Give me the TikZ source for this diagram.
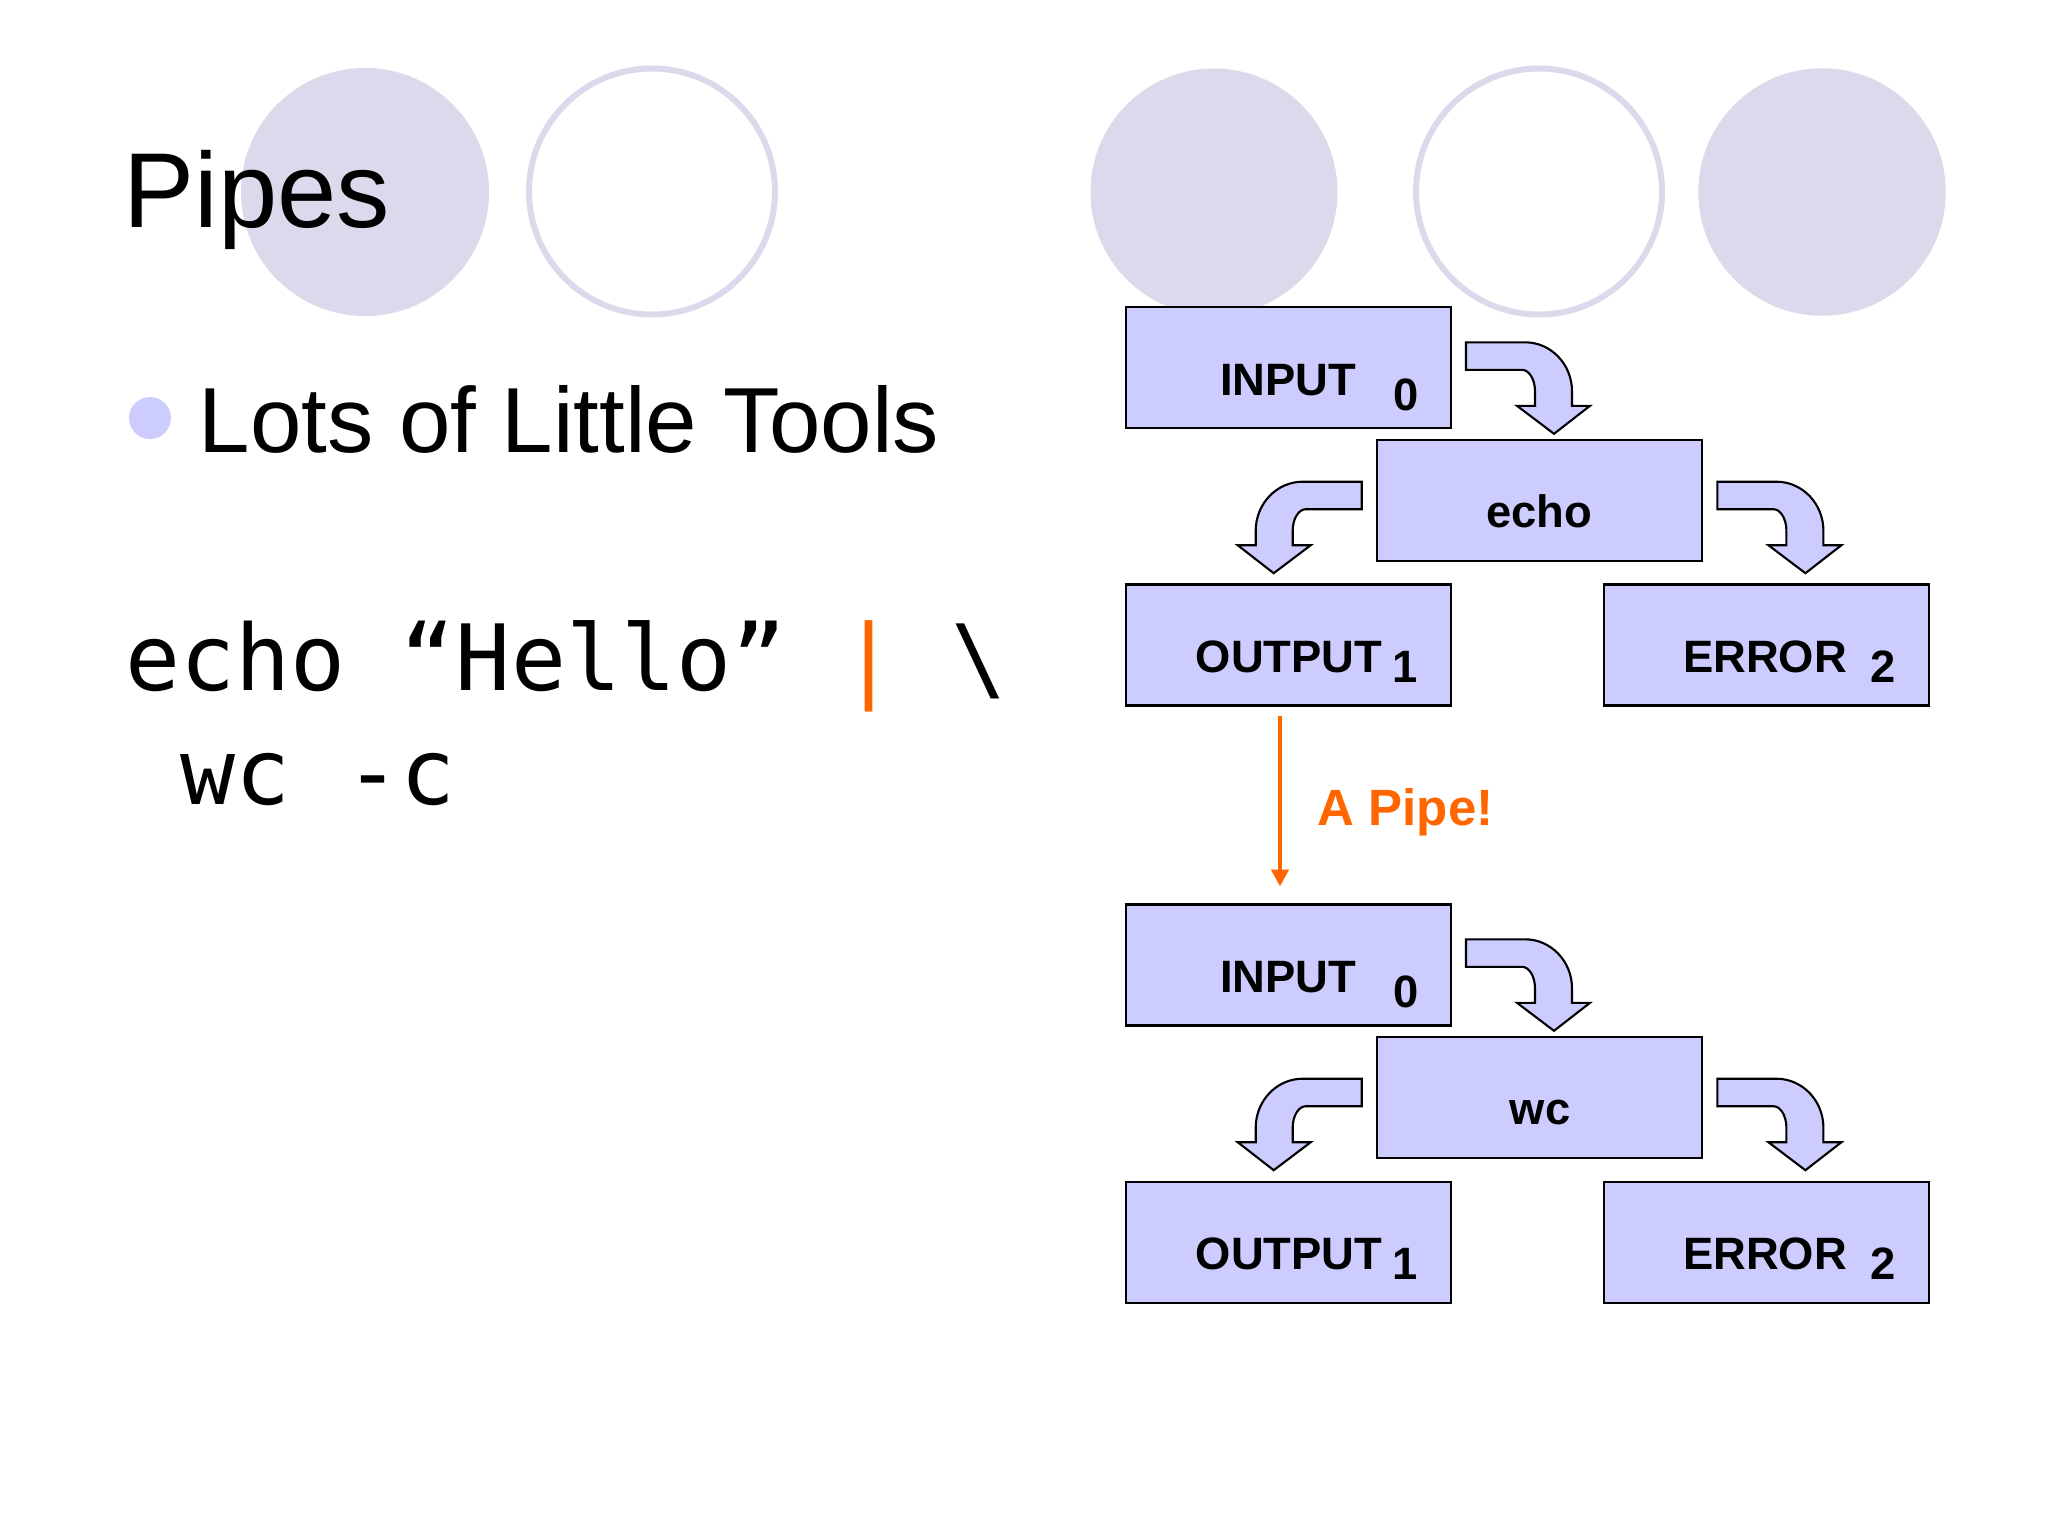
\documentclass[tikz,border=0pt]{standalone}
\usepackage{fontspec}
\setmainfont{Liberation Sans}
\newfontfamily\codefont{DejaVu Sans Mono}
\usetikzlibrary{arrows.meta,calc}
\definecolor{circfill}{RGB}{219,217,235}
\definecolor{boxfill}{RGB}{204,204,255}
\definecolor{bulletcol}{RGB}{204,204,255}
\definecolor{pipeorange}{RGB}{255,102,0}
\tikzset{
  deco/.style={fill=circfill},
  decoring/.style={draw=circfill, line width=1.7pt, fill=white},
  box/.style={draw=black, line width=0.6pt, fill=boxfill, rectangle,
    minimum width=3.25cm, minimum height=1.21cm, inner sep=0pt, outer sep=0pt},
  lbl/.style={anchor=base west, inner sep=0pt, font=\bfseries\fontsize{12.9}{15}\selectfont},
  barrow/.style={draw=black, line width=0.6pt, fill=boxfill, line join=miter},
  pipearrow/.style={draw=pipeorange, line width=1.4pt,
    -{Triangle[width=4.8pt,length=4.8pt]}},
  pics/bentarrow/.style={code={
    \draw[barrow] (0,0) -- (59,0) .. controls (85,0) and (106,22) .. (106,49)
      -- (106,63.5) -- (124,63.5) -- (88,91.5) -- (51,63.5) -- (69,63.5)
      -- (69,49) .. controls (69,37) and (63,27.5) .. (56,27.5) -- (0,27.5) -- cycle;
  }}
}
\begin{document}
\begin{tikzpicture}[x=0.01cm,y=-0.01cm]
\useasboundingbox (0,0) rectangle (2048,1536);
\fill[white] (0,0) rectangle (2048,1536);

% decorative circles
\fill[deco] (365,192) circle[radius=124];
\draw[decoring] (652,191.5) circle[radius=123];
\fill[deco] (1214,192) circle[radius=123.5];
\draw[decoring] (1539,191.5) circle[radius=123];
\fill[deco] (1822,192) circle[radius=123.7];

% title and bullet
\node[anchor=base west, inner sep=0pt, font=\fontsize{30.3}{36}\selectfont] (title) at (123,227) {Pipes};
\fill[bulletcol] (150,418) circle[radius=21];
\node[anchor=base west, inner sep=0pt, font=\fontsize{26.3}{31}\selectfont] (bullettext) at (198,452) {Lots of Little Tools};

% code
\node[anchor=base west, inner sep=0pt, font=\codefont\fontsize{26.0}{31}\selectfont] (code1) at (125,690)
  {echo “Hello” \textcolor{pipeorange}{|} \textbackslash};
\node[anchor=base west, inner sep=0pt, font=\codefont\fontsize{26.0}{31}\selectfont] (code2) at (180,804) {wc -c};

% upper process
\node[box] (in1) at (1288.5,367.5) {};
\node[box] (echo) at (1539.5,500.5) {};
\node[box] (out1) at (1288.5,645) {};
\node[box] (err1) at (1766.5,645) {};
\node[lbl] (in1t) at (1219.5,395) {INPUT};
\node[lbl] (in1n) at (1393,410) {0};
\node[lbl, anchor=base] (echot) at (1539.3,527.3) {echo};
\node[lbl] (out1t) at (1195,672.7) {OUTPUT};
\node[lbl] (out1n) at (1391.5,682.7) {1};
\node[lbl] (err1t) at (1682.4,672.7) {ERROR};
\node[lbl] (err1n) at (1869.6,682.7) {2};
\pic at (1466,342.3) {bentarrow};
\pic[xscale=-1] at (1361.7,481.7) {bentarrow};
\pic at (1717.4,481.7) {bentarrow};

% pipe
\draw[pipearrow] ($(out1.south)+(-8.5,10)$) -- ($(out1.south)+(-8.5,181)$) coordinate (pipeend);
\node[anchor=base west, inner sep=0pt, text=pipeorange, font=\bfseries\fontsize{14.5}{17}\selectfont] (pipelbl) at (1317,825) {A Pipe!};

% lower process
\node[box] (in2) at (1288.5,965) {};
\node[box] (wc) at (1539.5,1097.5) {};
\node[box] (out2) at (1288.5,1242.5) {};
\node[box] (err2) at (1766.5,1242.5) {};
\node[lbl] (in2t) at (1219.5,992) {INPUT};
\node[lbl] (in2n) at (1393,1007) {0};
\node[lbl, anchor=base] (wct) at (1540,1124.3) {wc};
\node[lbl] (out2t) at (1195,1269.7) {OUTPUT};
\node[lbl] (out2n) at (1391.5,1279.7) {1};
\node[lbl] (err2t) at (1682.4,1269.7) {ERROR};
\node[lbl] (err2n) at (1869.6,1279.7) {2};
\pic at (1466,939.3) {bentarrow};
\pic[xscale=-1] at (1361.7,1078.7) {bentarrow};
\pic at (1717.4,1078.7) {bentarrow};
\end{tikzpicture}
\end{document}
